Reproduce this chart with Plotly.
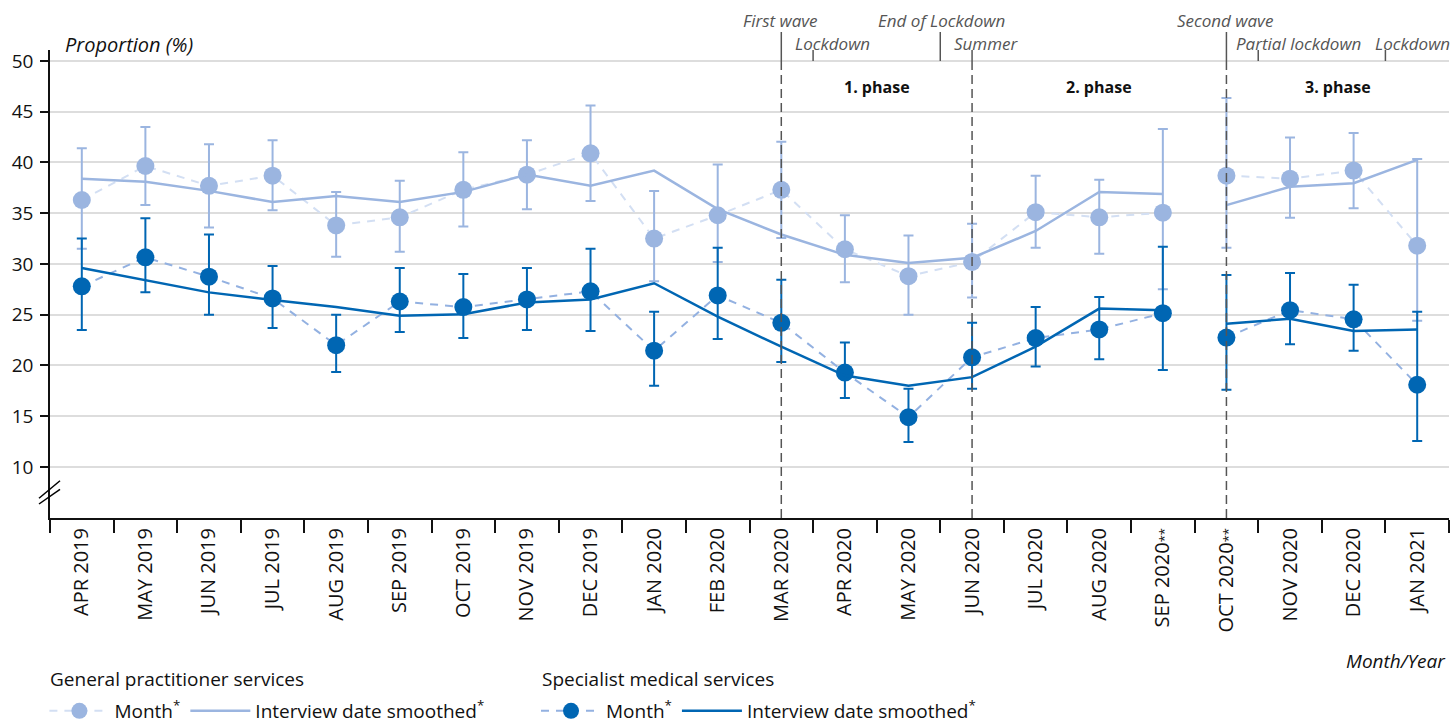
import plotly.graph_objects as go

months = ["APR 2019", "MAY 2019", "JUN 2019", "JUL 2019", "AUG 2019", "SEP 2019",
          "OCT 2019", "NOV 2019", "DEC 2019", "JAN 2020", "FEB 2020", "MAR 2020",
          "APR 2020", "MAY 2020", "JUN 2020", "JUL 2020", "AUG 2020", "SEP 2020",
          "OCT 2020", "NOV 2020", "DEC 2020", "JAN 2021"]
tick_labels = ["APR 2019", "MAY 2019", "JUN 2019", "JUL 2019", "AUG 2019", "SEP 2019",
               "OCT 2019", "NOV 2019", "DEC 2019", "JAN 2020", "FEB 2020", "MAR 2020",
               "APR 2020", "MAY 2020", "JUN 2020", "JUL 2020", "AUG 2020",
               "SEP 2020<span style='font-size:13px'>**</span>",
               "OCT 2020<span style='font-size:13px'>**</span>", "NOV 2020", "DEC 2020", "JAN 2021"]

# General practitioner services
gp_month = [36.3, 39.65, 37.7, 38.7, 33.8, 34.6, 37.3, 38.8, 40.9, 32.5, 34.8, 37.3,
            31.45, 28.8, 30.2, 35.1, 34.6, 35.05, 38.7, 38.4, 39.2, 31.8]
gp_upper = [41.4, 43.5, 41.8, 42.2, 37.1, 38.2, 41.0, 42.2, 45.6, 37.2, 39.8, 42.05,
            34.8, 32.8, 33.95, 38.7, 38.3, 43.3, 46.35, 42.45, 42.9, 40.35]
gp_lower = [31.5, 35.8, 33.6, 35.3, 30.7, 31.2, 33.7, 35.4, 36.2, 28.3, 30.2, 32.55,
            28.2, 25.0, 26.7, 31.6, 31.0, 27.5, 31.6, 34.55, 35.5, 24.4]
gp_smooth = [38.4, 38.1, 37.2, 36.1, 36.7, 36.1, 37.1, 38.8, 37.7, 39.2, 35.4, 32.9,
             30.9, 30.1, 30.6, 33.25, 37.1, 36.9, 35.8, 37.6, 37.95, 40.25]

# Specialist medical services
sp_month = [27.8, 30.65, 28.75, 26.6, 22.0, 26.3, 25.75, 26.5, 27.3, 21.45, 26.9, 24.2,
            19.3, 14.9, 20.8, 22.7, 23.55, 25.15, 22.75, 25.45, 24.55, 18.1]
sp_upper = [32.5, 34.5, 32.9, 29.8, 25.0, 29.6, 29.0, 29.6, 31.5, 25.3, 31.6, 28.45,
            22.25, 17.7, 24.2, 25.75, 26.75, 31.7, 28.9, 29.1, 27.95, 25.3]
sp_lower = [23.5, 27.2, 25.0, 23.7, 19.35, 23.3, 22.7, 23.5, 23.4, 18.0, 22.6, 20.35,
            16.8, 12.45, 17.7, 19.9, 20.6, 19.55, 17.6, 22.1, 21.45, 12.55]
sp_smooth = [29.6, 28.4, 27.2, 26.45, 25.75, 24.9, 25.05, 26.2, 26.5, 28.1, 24.8, 21.85,
             19.0, 18.0, 18.85, 21.85, 25.6, 25.45, 24.1, 24.6, 23.4, 23.55]

phases = ["1. phase", "2. phase", "3. phase"]
phase_pos = [12.5, 16.0, 19.75]

GP = "#9BB5E0"
GP_DASH = "#D3DFF3"
SP = "#0066B3"
SP_DASH = "#93B1E1"
FONT = "Open Sans"

segments = [(0, 18), (18, 22)]
fig = go.Figure()


def add_month(vals, up, lo, color, dash_color, name, legend):
    for k, (a, b) in enumerate(segments):
        fig.add_trace(go.Scatter(
            x=months[a:b], y=vals[a:b], mode="lines+markers",
            name=name, legend=legend, legendgroup=legend + "m",
            showlegend=(k == 0),
            line=dict(color=dash_color, width=2, dash="8px,7px"),
            marker=dict(color=color, size=18),
            error_y=dict(type="data", symmetric=False,
                         array=[u - v for u, v in zip(up[a:b], vals[a:b])],
                         arrayminus=[v - l for l, v in zip(lo[a:b], vals[a:b])],
                         color=color, thickness=2, width=5),
        ))


def add_smooth(vals, color, name, legend):
    for k, (a, b) in enumerate(segments):
        fig.add_trace(go.Scatter(
            x=months[a:b], y=vals[a:b], mode="lines",
            name=name, legend=legend, legendgroup=legend + "s",
            showlegend=(k == 0),
            line=dict(color=color, width=2.5),
        ))


add_month(gp_month, gp_upper, gp_lower, GP, GP_DASH, "Month<sup>*</sup>", "legend")
add_smooth(gp_smooth, GP, "Interview date smoothed<sup>*</sup>", "legend")
add_month(sp_month, sp_upper, sp_lower, SP, SP_DASH, "Month<sup>*</sup>", "legend2")
add_smooth(sp_smooth, SP, "Interview date smoothed<sup>*</sup>", "legend2")

# plot area spans px 50..1449 x 50..518 of the window
H = 468.0
def py(px):
    return (518 - px) / H

def pxx(X):
    return (X - 50) / 1399.0

shapes = []
GRAYL = "#555555"
for xi, top_px in [(11, 32), (14, 50), (18, 32)]:
    shapes.append(dict(type="line", xref="x", yref="paper", x0=xi, x1=xi,
                       y0=0, y1=py(61), line=dict(color=GRAYL, width=1.5, dash="9px,5px")))
    shapes.append(dict(type="line", xref="x", yref="paper", x0=xi, x1=xi,
                       y0=py(61), y1=py(top_px), line=dict(color=GRAYL, width=1.5)))
for xi, top_px in [(11.5, 50), (13.5, 32), (18.5, 50), (20.5, 50)]:
    shapes.append(dict(type="line", xref="x", yref="paper", x0=xi, x1=xi,
                       y0=py(61), y1=py(top_px), line=dict(color=GRAYL, width=1.5)))
for (x0, y0, x1, y1) in [(39, 498.3, 60, 480.7), (39, 504, 60, 489.3)]:
    shapes.append(dict(type="line", xref="paper", yref="paper",
                       x0=pxx(x0), y0=py(y0), x1=pxx(x1), y1=py(y1),
                       line=dict(color="black", width=1.5)))

annotations = []
ev_font = dict(family=FONT, size=17, color="#555555", style="italic")
for txt, X, Y, anchor in [("First wave", 780.5, 20, "center"),
                          ("Lockdown", 793, 43, "left"),
                          ("End of Lockdown", 941, 20, "center"),
                          ("Summer", 952, 43, "left"),
                          ("Second wave", 1225, 20, "center"),
                          ("Partial lockdown", 1234, 43, "left"),
                          ("Lockdown", 1373, 43, "left")]:
    annotations.append(dict(text=txt, xref="paper", yref="paper", x=pxx(X), y=py(Y),
                            xanchor=anchor, yanchor="middle", showarrow=False, font=ev_font))
for txt, xp in zip(phases, phase_pos):
    annotations.append(dict(text="<b>" + txt + "</b>", xref="x", yref="paper", x=xp, y=py(87),
                            xanchor="center", yanchor="middle", showarrow=False,
                            font=dict(family=FONT, size=16, color="#111111")))
annotations.append(dict(text="Proportion (%)", xref="paper", yref="paper", x=pxx(63), y=py(44),
                        xanchor="left", yanchor="middle", showarrow=False,
                        font=dict(family=FONT, size=20, color="#111111", style="italic")))
annotations.append(dict(text="Month/Year", xref="paper", yref="paper", x=pxx(1448), y=py(661),
                        xanchor="right", yanchor="middle", showarrow=False,
                        font=dict(family=FONT, size=19, color="#111111", style="italic")))
for txt, X in [("General practitioner services", 48), ("Specialist medical services", 540)]:
    annotations.append(dict(text=txt, xref="paper", yref="paper", x=pxx(X), y=py(679),
                            xanchor="left", yanchor="middle", showarrow=False,
                            font=dict(family=FONT, size=19, color="#111111")))

leg_common = dict(orientation="h", yanchor="top", xanchor="left", bgcolor="rgba(0,0,0,0)",
                  font=dict(family=FONT, size=19, color="#111111"), itemwidth=60,
                  traceorder="normal")
fig.update_layout(
    width=1452, height=723,
    margin=dict(l=50, r=3, t=50, b=205, autoexpand=False),
    plot_bgcolor="white", paper_bgcolor="white",
    font=dict(family=FONT, size=19, color="#111111"),
    xaxis=dict(type="category", categoryorder="array", categoryarray=months,
               tickmode="array", tickvals=months, ticktext=tick_labels,
               tickangle=-90, tickson="boundaries", ticks="outside", ticklen=13,
               tickwidth=1.5, tickcolor="#111111", showline=True, linecolor="#111111",
               linewidth=2, showgrid=False, range=[-0.5, 21.5],
               tickfont=dict(family=FONT, size=20, color="#111111")),
    yaxis=dict(range=[4.97, 51.08], tickmode="array", tickvals=[10, 15, 20, 25, 30, 35, 40, 45, 50],
               ticks="outside", ticklen=8, tickwidth=1.5, tickcolor="#111111",
               showline=True, linecolor="#111111", linewidth=1.5, ticklabelstandoff=3,
               showgrid=True, gridcolor="#DDDDDD", gridwidth=1.5, zeroline=False,
               tickfont=dict(family=FONT, size=19, color="#111111")),
    legend=dict(x=-0.004, y=py(692), **leg_common),
    legend2=dict(x=pxx(536), y=py(692), **leg_common),
    shapes=shapes, annotations=annotations,
)

fig.write_html(
    "out.html",
    config={"displayModeBar": False},
    post_script=("document.documentElement.style.margin='0';"
                 "document.body.style.margin='0';"
                 "document.documentElement.style.overflow='hidden';"
                 "document.body.style.overflow='hidden';"),
)
